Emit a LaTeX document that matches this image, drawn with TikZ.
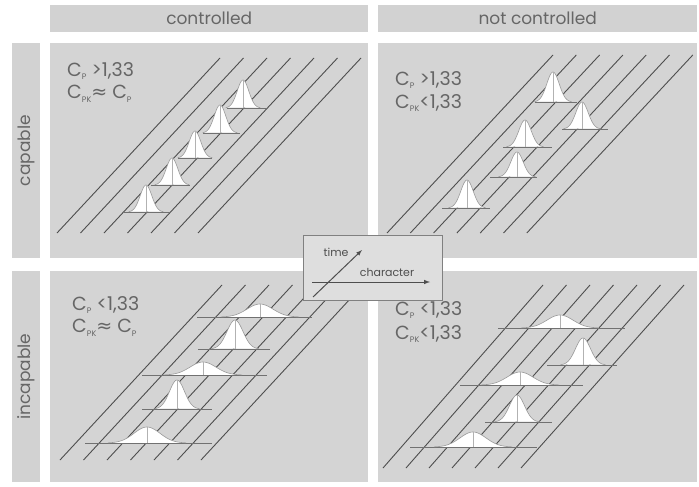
\documentclass[tikz,border=0pt]{standalone}
\usepackage{fontspec}
\setmainfont{Poppins}
\newfontfamily\symfont{DejaVu Sans}
\definecolor{panelgray}{HTML}{D4D4D4}
\definecolor{headgray}{HTML}{D2D2D2}
\definecolor{linegray}{HTML}{4E4E4E}
\definecolor{txtgray}{HTML}{666666}
\definecolor{leggray}{HTML}{DEDEDE}
\newcommand\lowsub[1]{\raisebox{-0.35ex}{\fontsize{8}{8}\selectfont #1}}
\newcommand\bellcurve[6]{%
  \fill[white] plot[domain=-3:3,samples=41] ({#1+#3*\x},{#2-#4*exp(-\x*\x/2)}) -- cycle;
  \draw[bline] (#5,#2) -- (#6,#2);
  \draw[curveline] plot[domain=-3:3,samples=41] ({#1+#3*\x},{#2-#4*exp(-\x*\x/2)});
  \draw[cline] (#1,#2) -- (#1,{#2-#4});
}
\begin{document}
\begin{tikzpicture}[x=1pt,y=-1pt,
  panel/.style={fill=panelgray,draw=none,anchor=north west,inner sep=0pt},
  headbox/.style={fill=headgray,draw=none,anchor=north west,inner sep=0pt},
  headtext/.style={text=txtgray,font=\fontsize{17}{17}\selectfont},
  diag/.style={draw=linegray,line width=0.9pt},
  bline/.style={draw=linegray!80,line width=0.9pt},
  curveline/.style={draw=gray!80,line width=0.6pt},
  cline/.style={draw=gray!60,line width=0.7pt},
  formula/.style={anchor=west,inner sep=0pt,text=txtgray,font=\fontsize{19}{19}\selectfont},
  legtext/.style={inner sep=0pt,text=linegray,font=\fontsize{11}{11}\selectfont},
  legarrow/.style={draw=linegray,line width=1pt,-latex}
]
\useasboundingbox (0,0) rectangle (699,487);
\fill[white] (0,0) rectangle (699,487);

% headers
\node[headbox,minimum width=318,minimum height=27] (hc) at (50,5) {};
\node[headtext] (hct) at (hc.center) {controlled};
\node[headbox,minimum width=319,minimum height=27] (hn) at (378,5) {};
\node[headtext] (hnt) at (hn.center) {not controlled};

% row labels
\node[headbox,minimum width=28,minimum height=215] (rc) at (12,43) {};
\node[headtext,rotate=90] (rct) at (rc.center) {capable};
\node[headbox,minimum width=28,minimum height=211] (ri) at (12,271) {};
\node[headtext,rotate=90] (rit) at (ri.center) {incapable};

% panels
\node[panel,minimum width=318,minimum height=215] (tl) at (50,43) {};
\node[panel,minimum width=319,minimum height=215] (tr) at (378,43) {};
\node[panel,minimum width=318,minimum height=211] (bl) at (50,271) {};
\node[panel,minimum width=319,minimum height=211] (br) at (378,271) {};

% diagonal lines
\foreach \i in {0,...,6} {
  \draw[diag] ({57+23.5*\i},233) -- ({220+23.5*\i},58);
  \draw[diag] ({387+23.3*\i},233) -- ({553+23.3*\i},55);
  \draw[diag] ({60+23.5*\i},460) -- ({222+23.5*\i},285);
  \draw[diag] ({383+23*\i},468) -- ({543+23.5*\i},285);
}

% bell curves: top-left
\bellcurve{146}{212}{5.8}{27}{123}{170}
\bellcurve{172}{185}{5.8}{27}{151}{190}
\bellcurve{195}{158}{5.8}{27}{178}{212}
\bellcurve{220}{133}{5.8}{28}{203}{240}
\bellcurve{243}{108}{5.8}{28}{227}{267}
% top-right
\bellcurve{553}{102}{6.2}{30}{535}{577}
\bellcurve{582}{129}{6.2}{27}{562}{608}
\bellcurve{525}{147}{6.2}{27}{503}{552}
\bellcurve{517}{177}{6.2}{25}{490}{537}
\bellcurve{467}{208}{6.2}{28}{442}{490}
% bottom-left
\bellcurve{260}{317}{13}{13}{197}{312}
\bellcurve{235}{349}{8}{29}{198}{270}
\bellcurve{203}{375}{13}{13}{142}{267}
\bellcurve{177}{409}{7.5}{29}{142}{212}
\bellcurve{147}{443}{13}{16}{85}{212}
% bottom-right
\bellcurve{560}{328}{13}{13}{498}{625}
\bellcurve{583}{365}{7.5}{27}{547}{617}
\bellcurve{520}{385}{13}{13}{460}{583}
\bellcurve{517}{422}{7.5}{27}{485}{552}
\bellcurve{473}{447}{13}{15}{410}{537}

% formulas
\node[formula] (f1a) at (67,71) {C\lowsub{P} >1,33};
\node[formula] (f1b) at (67,94) {C\lowsub{PK}{\symfont≈} C\lowsub{P}};
\node[formula] (f2a) at (395,80) {C\lowsub{P} >1,33};
\node[formula] (f2b) at (395,103) {C\lowsub{PK}<1,33};
\node[formula] (f3a) at (72,305) {C\lowsub{P} <1,33};
\node[formula] (f3b) at (72,328) {C\lowsub{PK}{\symfont≈} C\lowsub{P}};
\node[formula] (f4a) at (395,310) {C\lowsub{P} <1,33};
\node[formula] (f4b) at (395,334) {C\lowsub{PK}<1,33};

% legend
\node[fill=leggray,draw=gray,line width=0.8pt,anchor=north west,inner sep=0pt,minimum width=139,minimum height=65] (leg) at (303,235) {};
\coordinate (ts) at (313,297);
\coordinate (te) at (362,250);
\coordinate (cs) at (312,282);
\coordinate (ce) at (430,282);
\draw[legarrow] (cs) -- (ce);
\draw[legarrow] (ts) -- (te);
\node[legtext] (lt) at (336,252) {time};
\node[legtext] (lc) at (387,272) {character};
\end{tikzpicture}
\end{document}
